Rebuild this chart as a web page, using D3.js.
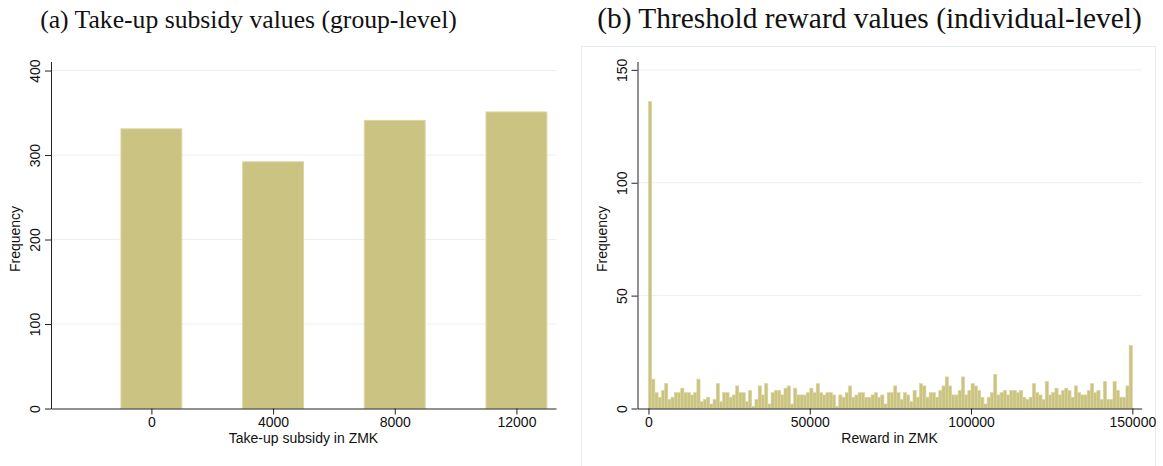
<!DOCTYPE html>
<html>
<head>
<meta charset="utf-8">
<script src="https://cdn.jsdelivr.net/npm/d3@7"></script>
<style>
  body { margin: 0; background: #fff; }
  svg text { font-family: "Liberation Sans", Arial, sans-serif; }
</style>
</head>
<body>
<div id="chart"></div>
<script>
const width = 1163;
const height = 466;

// (a) take-up subsidy, group level
const subsidyValues = [0, 4000, 8000, 12000];
const subsidyFreq = [331, 292, 341, 351];
const subsidyTicksY = [0, 100, 200, 300, 400];

// (b) threshold reward, individual level: 1000 ZMK bins from 0 to 150000
const rewardFreq = [
  136, 13, 7, 5, 8, 11, 4, 5, 7, 7, 9, 7, 7, 6, 7, 13, 3, 4, 5, 2,
  4, 11, 3, 7, 7, 5, 6, 10, 7, 7, 3, 8, 1, 4, 10, 6, 11, 2, 7, 8,
  8, 6, 9, 10, 2, 9, 6, 6, 6, 7, 9, 7, 11, 7, 6, 7, 7, 6, 1, 6,
  5, 7, 10, 5, 6, 7, 7, 5, 5, 6, 7, 5, 6, 2, 7, 7, 10, 7, 4, 7,
  6, 3, 8, 5, 11, 10, 5, 7, 7, 5, 8, 10, 14, 10, 6, 6, 8, 14, 6, 8,
  11, 10, 8, 5, 2, 5, 7, 15, 6, 7, 8, 6, 8, 8, 7, 8, 5, 4, 5, 11,
  7, 6, 4, 12, 6, 7, 9, 6, 8, 9, 8, 5, 10, 7, 6, 6, 8, 11, 7, 8,
  4, 12, 4, 4, 12, 8, 5, 5, 10, 28
];
const rewardBinWidth = 1000;
const rewardTicksX = [0, 50000, 100000, 150000];
const rewardTicksY = [0, 50, 100, 150];

const barFill = "#cbc382";
const barStroke = "#dbd5a0";
const gridColor = "#e8f0f2";

const svg = d3.select("#chart")
    .append("svg")
    .attr("width", width)
    .attr("height", height);

// frame round panel (b)
svg.append("rect")
    .attr("x", 581.5).attr("y", 46.5)
    .attr("width", 574).attr("height", 420)
    .attr("fill", "none")
    .attr("stroke", "#e4ecee");

function grid(g, x, y, yTicks) {
    const [x0, x1] = x.range();
    g.append("g").selectAll("line")
        .data(yTicks.filter(d => d > 0))
      .enter().append("line")
        .attr("x1", x0).attr("x2", x1)
        .attr("y1", d => y(d)).attr("y2", d => y(d))
        .attr("stroke", gridColor)
        .attr("stroke-width", 1);
}

function axes(g, x, y, xTicks, yTicks, xTitle) {
    const [y0, y1] = y.range();
    const [x0, x1] = x.range();

    const yAxis = g.append("g")
        .attr("transform", `translate(${x0},0)`)
        .call(d3.axisLeft(y).tickValues(yTicks).tickSize(6).tickSizeOuter(0));
    yAxis.selectAll("text")
        .attr("font-size", 14)
        .attr("fill", "#111")
        .attr("x", 0).attr("y", 0).attr("dy", 0)
        .attr("text-anchor", "middle")
        .attr("transform", "translate(-11,0) rotate(-90)");

    const xAxis = g.append("g")
        .attr("transform", `translate(0,${y0})`)
        .call(d3.axisBottom(x).tickValues(xTicks).tickFormat(d3.format("d")).tickSize(6).tickSizeOuter(0).tickPadding(3));
    xAxis.selectAll("text").attr("font-size", 14).attr("fill", "#111");

    g.selectAll(".domain").attr("stroke", "#222");
    g.selectAll(".tick line").attr("stroke", "#222");

    g.append("text")
        .attr("transform", `translate(${x0 - 31},${(y0 + y1) / 2 + 4}) rotate(-90)`)
        .attr("text-anchor", "middle")
        .attr("font-size", 14)
        .attr("fill", "#111")
        .text("Frequency");

    g.append("text")
        .attr("x", (x0 + x1) / 2)
        .attr("y", y0 + 34)
        .attr("text-anchor", "middle")
        .attr("font-size", 14)
        .attr("fill", "#111")
        .text(xTitle);
}

// ---- panel (a)
const gA = svg.append("g");
const xA = d3.scaleLinear().domain([-3300, 13300]).range([51, 556]);
const yA = d3.scaleLinear().domain([0, 410.7]).range([408.5, 61.5]);

grid(gA, xA, yA, subsidyTicksY);

gA.append("g").selectAll("rect")
    .data(subsidyValues)
  .enter().append("rect")
    .attr("x", d => xA(d - 1000))
    .attr("width", xA(1000) - xA(-1000))
    .attr("y", (d, i) => yA(subsidyFreq[i]))
    .attr("height", (d, i) => yA(0) - yA(subsidyFreq[i]))
    .attr("fill", barFill)
    .attr("stroke", barStroke)
    .attr("stroke-width", 1);

axes(gA, xA, yA, subsidyValues, subsidyTicksY, "Take-up subsidy in ZMK");

// ---- panel (b)
const gB = svg.append("g");
const xB = d3.scaleLinear().domain([-3400, 152900]).range([637.5, 1141.7]);
const yB = d3.scaleLinear().domain([0, 153.7]).range([408.5, 61.5]);

grid(gB, xB, yB, rewardTicksY);

gB.append("g").selectAll("rect")
    .data(rewardFreq)
  .enter().append("rect")
    .attr("x", (d, i) => xB(i * rewardBinWidth))
    .attr("width", xB(rewardBinWidth) - xB(0))
    .attr("y", d => yB(d))
    .attr("height", d => yB(0) - yB(d))
    .attr("fill", barFill)
    .attr("stroke", barStroke)
    .attr("stroke-width", 0.6);

axes(gB, xB, yB, rewardTicksX, rewardTicksY, "Reward in ZMK");

// ---- titles
const titles = [
    { text: "(a) Take-up subsidy values (group-level)", x0: 40, x1: 457 },
    { text: "(b) Threshold reward values (individual-level)", x0: 597, x1: 1142 }
];
titles.forEach(t => {
    const el = svg.append("text")
        .attr("x", (t.x0 + t.x1) / 2)
        .attr("y", 28)
        .attr("text-anchor", "middle")
        .style("font-family", "'Liberation Serif', 'DejaVu Serif', serif")
        .attr("font-size", 24)
        .attr("fill", "#111")
        .text(t.text);
    const w = el.node().getComputedTextLength();
    el.attr("font-size", 24 * (t.x1 - t.x0) / w);
});
</script>
</body>
</html>
